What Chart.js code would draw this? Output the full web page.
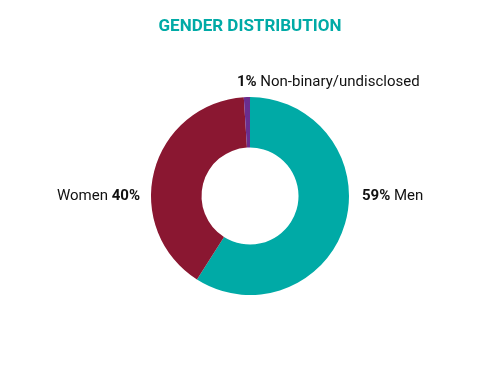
<!DOCTYPE html>
<html><head><meta charset="utf-8">
<script src="https://cdn.jsdelivr.net/npm/chart.js@4"></script>
<style>html,body{margin:0;padding:0;background:#fff}#wrap{width:500px;height:385px}</style>
</head><body><div id="wrap"><canvas id="c" width="500" height="385"></canvas></div>
<script>
const title = "GENDER DISTRIBUTION";
const categories = ["Men", "Women", "Non-binary/undisclosed"];
const values = [59, 40, 1];
const colors = ["#00AAA6", "#8A1731", "#6A2D8E"];

const FONT = "'Roboto', 'Open Sans', sans-serif";

const labelPlugin = {
  id: 'labels',
  afterDraw(chart) {
    const ctx = chart.ctx;
    const meta = chart.getDatasetMeta(0);
    ctx.save();
    ctx.fillStyle = "#00AAA6";
    ctx.font = "bold 17px " + FONT;
    ctx.textAlign = "center";
    ctx.textBaseline = "middle";
    ctx.fillText(title, 250, 27);
    const place = [
      {side: 'right', dx: 13, dy: 0},
      {side: 'left', dx: -11, dy: 0},
      {side: 'top', dx: -10, dy: -15}
    ];
    meta.data.forEach((arc, i) => {
      const p = arc.getProps(['x','y','startAngle','endAngle','outerRadius'], true);
      const mid = (p.startAngle + p.endAngle) / 2;
      const pct = values[i] + "%";
      const name = categories[i];
      ctx.fillStyle = "#111";
      ctx.textBaseline = "middle";
      const bold = "bold 15px " + FONT, norm = "15px " + FONT;
      let x, y;
      const s = place[i];
      if (s.side === 'right') {
        x = p.x + p.outerRadius + s.dx; y = p.y + s.dy;
        ctx.font = bold; ctx.textAlign = 'left'; ctx.fillText(pct, x, y);
        const w = ctx.measureText(pct + " ").width;
        ctx.font = norm; ctx.fillText(name, x + w, y);
      } else if (s.side === 'left') {
        x = p.x - p.outerRadius + s.dx; y = p.y + s.dy;
        ctx.font = bold; ctx.textAlign = 'right'; ctx.fillText(pct, x, y);
        const w = ctx.measureText(" " + pct).width;
        ctx.font = norm; ctx.fillText(name, x - w, y);
      } else {
        x = p.x + Math.cos(mid) * p.outerRadius + s.dx; y = p.y - p.outerRadius + s.dy;
        ctx.font = bold; ctx.textAlign = 'left'; ctx.fillText(pct, x, y);
        const w = ctx.measureText(pct + " ").width;
        ctx.font = norm; ctx.fillText(name, x + w, y);
      }
    });
    ctx.restore();
  }
};

new Chart(document.getElementById('c'), {
  type: 'doughnut',
  data: {
    labels: categories,
    datasets: [{ data: values, backgroundColor: colors, borderWidth: 0 }]
  },
  options: {
    responsive: false,
    animation: false,
    cutout: '49%',
    layout: { padding: { top: 97, bottom: 90, left: 151, right: 151 } },
    plugins: { legend: { display: false }, title: { display: false }, tooltip: { enabled: false } }
  },
  plugins: [labelPlugin]
});
</script></body></html>
